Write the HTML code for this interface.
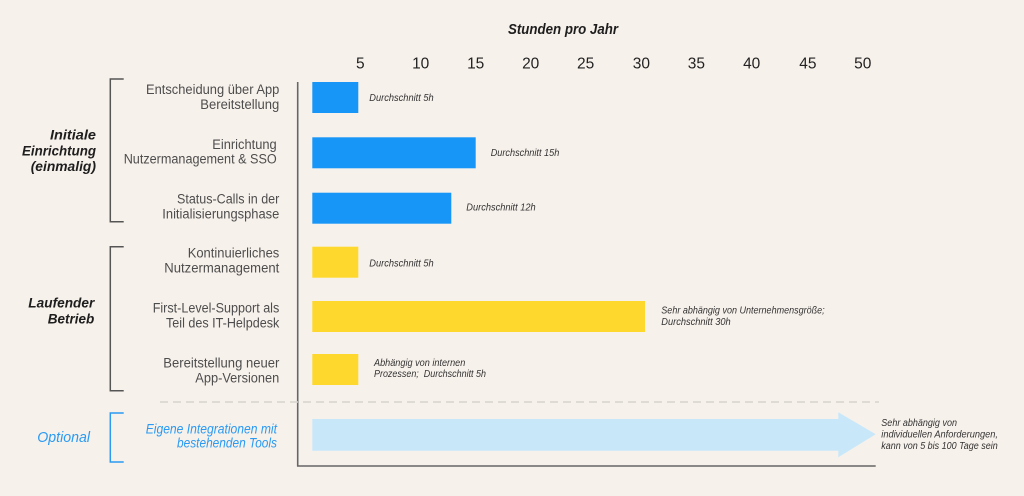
<!DOCTYPE html>
<html><head><meta charset="utf-8"><style>
html,body{margin:0;padding:0;background:#f7f1eb;}
svg{display:block;}
text{font-family:"Liberation Sans",sans-serif;}
.lab{font-size:13.5px;fill:#4d4d4d;}
.cat{font-size:14px;font-weight:bold;font-style:italic;fill:#1e1e1e;}
.ann{font-size:10px;font-style:italic;fill:#333;}
.tick{font-size:15.5px;fill:#222;}
.blu{font-size:13.5px;font-style:italic;fill:#2a9af2;}
</style></head><body>
<svg width="1024" height="496" viewBox="0 0 1024 496" xmlns="http://www.w3.org/2000/svg">
<rect x="0" y="0" width="1024" height="496" fill="#f7f1eb"/>
<text x="508" y="34" class="cat" style="font-size:15px" textLength="110" lengthAdjust="spacingAndGlyphs">Stunden pro Jahr</text>
<g class="tick" text-anchor="middle">
<text x="360.3" y="68.3">5</text>
<text x="420.7" y="68.3">10</text>
<text x="475.7" y="68.3">15</text>
<text x="530.7" y="68.3">20</text>
<text x="585.6" y="68.3">25</text>
<text x="641.4" y="68.3">30</text>
<text x="696.4" y="68.3">35</text>
<text x="751.7" y="68.3">40</text>
<text x="807.9" y="68.3">45</text>
<text x="862.8" y="68.3">50</text>
</g>
<line x1="297.7" y1="82" x2="297.7" y2="466.5" stroke="#666" stroke-width="1.6"/>
<line x1="297" y1="466" x2="875.7" y2="466" stroke="#666" stroke-width="1.6"/>
<line x1="160" y1="402" x2="879" y2="402" stroke="#d6d2cd" stroke-width="1.5" stroke-dasharray="8,5"/>
<rect x="312.3" y="82" width="46" height="31" fill="#1896f7"/>
<rect x="312.3" y="137.3" width="163.4" height="31" fill="#1896f7"/>
<rect x="312.3" y="192.7" width="139" height="31" fill="#1896f7"/>
<rect x="312.3" y="246.7" width="46" height="31" fill="#fed82c"/>
<rect x="312.3" y="301" width="332.7" height="31" fill="#fed82c"/>
<rect x="312.3" y="354" width="46" height="31" fill="#fed82c"/>
<polygon points="312.3,419 838.3,419 838.3,412.3 875.7,434.3 838.3,457.3 838.3,450.7 312.3,450.7" fill="#c8e8fa"/>
<polyline points="123.7,79 110.3,79 110.3,221.7 123.7,221.7" fill="none" stroke="#555" stroke-width="1.5"/>
<polyline points="123.7,246.7 110.3,246.7 110.3,390.7 123.7,390.7" fill="none" stroke="#555" stroke-width="1.5"/>
<polyline points="123.7,413 110.3,413 110.3,462 123.7,462" fill="none" stroke="#2a9af2" stroke-width="1.5"/>
<text x="50" y="139.3" class="cat" textLength="46" lengthAdjust="spacingAndGlyphs">Initiale</text>
<text x="22" y="155.5" class="cat" textLength="74" lengthAdjust="spacingAndGlyphs">Einrichtung</text>
<text x="30.7" y="171" class="cat" textLength="65.3" lengthAdjust="spacingAndGlyphs">(einmalig)</text>
<text x="28.3" y="307.7" class="cat" textLength="66" lengthAdjust="spacingAndGlyphs">Laufender</text>
<text x="47.7" y="323.5" class="cat" textLength="46.6" lengthAdjust="spacingAndGlyphs">Betrieb</text>
<text x="37.3" y="442" class="blu" style="font-size:14.5px" textLength="52.7" lengthAdjust="spacingAndGlyphs">Optional</text>
<text x="146" y="94" class="lab" textLength="133.3" lengthAdjust="spacingAndGlyphs">Entscheidung über App</text>
<text x="200.3" y="109" class="lab" textLength="79" lengthAdjust="spacingAndGlyphs">Bereitstellung</text>
<text x="212.3" y="148.8" class="lab" textLength="64.4" lengthAdjust="spacingAndGlyphs">Einrichtung</text>
<text x="123.7" y="163.6" class="lab" textLength="153" lengthAdjust="spacingAndGlyphs">Nutzermanagement &amp; SSO</text>
<text x="177" y="203.6" class="lab" textLength="102.3" lengthAdjust="spacingAndGlyphs">Status-Calls in der</text>
<text x="162.3" y="218.3" class="lab" textLength="117" lengthAdjust="spacingAndGlyphs">Initialisierungsphase</text>
<text x="187.7" y="257.7" class="lab" textLength="91.6" lengthAdjust="spacingAndGlyphs">Kontinuierliches</text>
<text x="164.3" y="272.3" class="lab" textLength="115" lengthAdjust="spacingAndGlyphs">Nutzermanagement</text>
<text x="152.7" y="312.3" class="lab" textLength="126.6" lengthAdjust="spacingAndGlyphs">First-Level-Support als</text>
<text x="166" y="327.3" class="lab" textLength="113.3" lengthAdjust="spacingAndGlyphs">Teil des IT-Helpdesk</text>
<text x="163.3" y="367.3" class="lab" textLength="116" lengthAdjust="spacingAndGlyphs">Bereitstellung neuer</text>
<text x="195.3" y="382.3" class="lab" textLength="84" lengthAdjust="spacingAndGlyphs">App-Versionen</text>
<text x="145.7" y="433.3" class="blu" textLength="131.3" lengthAdjust="spacingAndGlyphs">Eigene Integrationen mit</text>
<text x="177" y="447.7" class="blu" textLength="100" lengthAdjust="spacingAndGlyphs">bestehenden Tools</text>
<text x="369.3" y="101" class="ann" textLength="64.4" lengthAdjust="spacingAndGlyphs">Durchschnitt 5h</text>
<text x="490.7" y="156" class="ann" textLength="68.6" lengthAdjust="spacingAndGlyphs">Durchschnitt 15h</text>
<text x="466.3" y="210.5" class="ann" textLength="69.4" lengthAdjust="spacingAndGlyphs">Durchschnitt 12h</text>
<text x="369.3" y="266.3" class="ann" textLength="64.4" lengthAdjust="spacingAndGlyphs">Durchschnitt 5h</text>
<text x="661.3" y="313.7" class="ann" textLength="163.4" lengthAdjust="spacingAndGlyphs">Sehr abhängig von Unternehmensgröße;</text>
<text x="661.3" y="324.8" class="ann" textLength="69.4" lengthAdjust="spacingAndGlyphs">Durchschnitt 30h</text>
<text x="374" y="366" class="ann" textLength="91.3" lengthAdjust="spacingAndGlyphs">Abhängig von internen</text>
<text x="374" y="377" class="ann" style="white-space:pre" textLength="112" lengthAdjust="spacingAndGlyphs">Prozessen;  Durchschnitt 5h</text>
<text x="881.3" y="426" class="ann" textLength="75.7" lengthAdjust="spacingAndGlyphs">Sehr abhängig von</text>
<text x="881.3" y="437.5" class="ann" textLength="116.7" lengthAdjust="spacingAndGlyphs">individuellen Anforderungen,</text>
<text x="881.3" y="449" class="ann" textLength="116.4" lengthAdjust="spacingAndGlyphs">kann von 5 bis 100 Tage sein</text>
</svg>
</body></html>
